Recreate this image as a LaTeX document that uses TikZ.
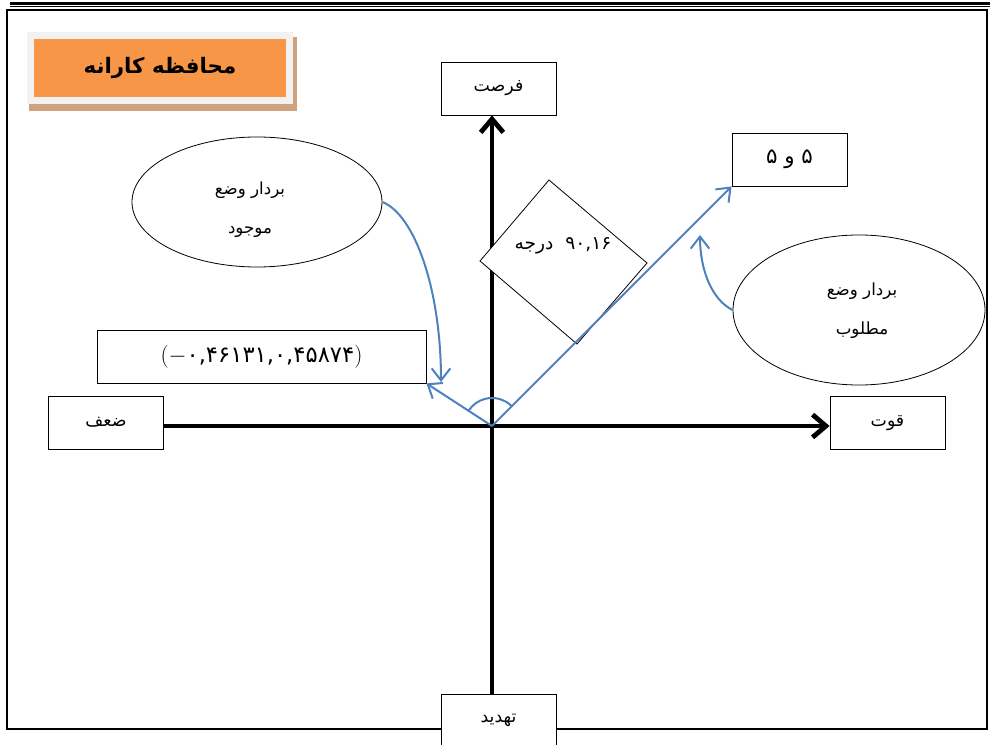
\documentclass[tikz,border=0pt]{standalone}
\usepackage{fontspec}
\usetikzlibrary{shapes.geometric,arrows.meta,calc}
\newfontfamily\fa[Script=Arabic]{DejaVu Sans}
\TeXXeTstate=1
\definecolor{vblue}{RGB}{79,129,189}
\definecolor{torange}{RGB}{247,150,70}
\definecolor{tshadow}{RGB}{206,162,126}
\definecolor{tgray}{RGB}{242,242,242}
\begin{document}
\begin{tikzpicture}[x=0.75pt,y=-0.75pt,
  box/.style={draw, line width=0.6pt, fill=white, minimum width=86.25pt, minimum height=39.75pt, inner sep=0pt, font=\fa\fontsize{13}{15}\selectfont},
  oval/.style={ellipse, draw, line width=0.6pt, fill=white, inner sep=0pt},
  ovaltext/.style={align=center, inner sep=0pt, font=\fa\fontsize{12.5}{29}\selectfont},
  axis/.style={line width=3.6pt, -{Straight Barb[length=10pt,width=17pt]}},
  vec/.style={vblue, line width=1.5pt, -{Straight Barb[length=9pt,width=14pt]}},
  txt/.style={font=\fa\fontsize{14}{16}\selectfont, inner sep=0pt}
]
\useasboundingbox (0,0) rectangle (990,745);
\clip (0,0) rectangle (990,745);
% page decoration
\draw[line width=2.25pt] (10,3.2) -- (990,3.2);
\draw[line width=1pt] (10,6.7) -- (990,6.7);
\draw[line width=1.5pt] (7,10) rectangle (987,729);
% title
\fill[tshadow] (29,37) rectangle (297,111);
\node[draw=tgray, line width=5.25pt, fill=torange, minimum width=194.25pt, minimum height=48.4pt, inner sep=0pt, font=\fa\bfseries\fontsize{16}{18}\selectfont] (title) at (160,68) {\beginR محافظه کارانه\endR};
% boxes
\coordinate (O) at (492,426);
\node[box] (opp) at (498.5,88.5) {\beginR فرصت\endR};
\node[box, font=\fa\fontsize{16}{18}\selectfont] (five) at (789.5,159.5) {\beginR ۵ و ۵\endR};
\node[box, minimum width=246.75pt, font=\fa\fontsize{17}{19}\selectfont] (coord) at (261.5,356.5) {$(\mathord{-}$۰,۴۶۱۳۱,۰,۴۵۸۷۴$)$};
\node[box] (weak) at (106,422.5) {\beginR ضعف\endR};
\node[box] (strong) at (887.5,423) {\beginR قوت\endR};
\node[box] (threat) at (498.5,720.5) {\beginR تهدید\endR};
% axes
\draw[axis] (weak.east |- O) -- (strong.west |- O);
\draw[axis] (threat.north -| O) -- (opp.south -| O);
% angle box
\draw[fill=white, line width=0.6pt] (549,180) -- (647,263) -- (577,344) -- (480,261) -- cycle;
\node[txt] (ang) at (563,246) {\beginR \beginL۹۰,۱۶\endL{}\ \ درجه\endR};
% ellipses
\node[oval, minimum width=187.5pt, minimum height=97.5pt] (cur) at (257,202) {};
\node[ovaltext] (curtext) at (250,210) {\beginR بردار وضع\endR\\\beginR موجود\endR};
\node[oval, minimum width=189pt, minimum height=112.5pt] (des) at (859,310) {};
\node[ovaltext] (destext) at (862,311) {\beginR بردار وضع\endR\\\beginR مطلوب\endR};
% vectors
\coordinate (cl) at (441,382);
\coordinate (cr) at (700,235);
\draw[vec] (O) -- (five.south west);
\draw[vec] (O) -- (coord.south east);
\draw[vblue, line width=1.5pt] (O) ++(-45:28) arc[start angle=-45, end angle=-147, radius=28];
\draw[vec] (cur.east) .. controls (415,215) and (441,290) .. (cl);
\draw[vec] (des.west) .. controls (712,300) and (700,270) .. (cr);
\end{tikzpicture}
\end{document}
